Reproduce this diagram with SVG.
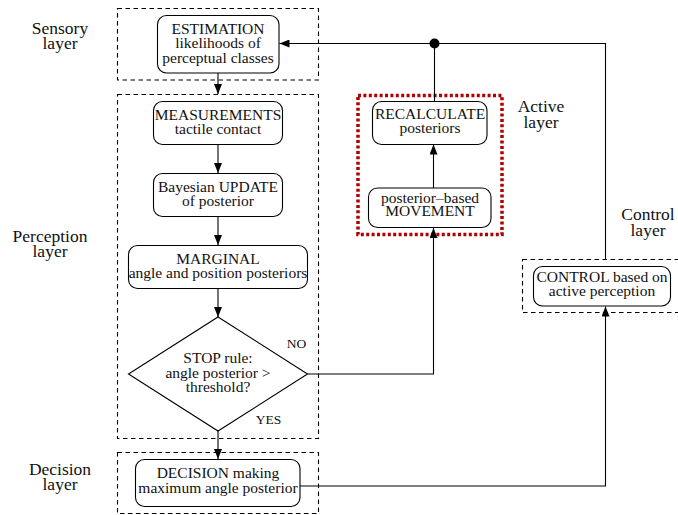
<svg xmlns="http://www.w3.org/2000/svg" width="678" height="515" viewBox="0 0 678 515" font-family="'Liberation Serif', 'Times New Roman', 'DejaVu Serif', serif">
<defs>
<marker id="ah" viewBox="0 0 10 8" refX="10" refY="4" markerWidth="10" markerHeight="8" markerUnits="userSpaceOnUse" orient="auto">
<path d="M0,0 L10,4 L0,8 Z" fill="#000"/>
</marker>
</defs>
<style>
text{font-family:'Liberation Serif','Times New Roman','DejaVu Serif',serif;fill:#111;text-anchor:middle}
.n{font-size:15.5px}
.l{font-size:17.5px}
.s{font-size:13.5px}
.box{fill:#fff;stroke:#000;stroke-width:1.1}
.dash{fill:none;stroke:#000;stroke-width:1.1;stroke-dasharray:4.5,3.5}
.red{fill:none;stroke:#b00000;stroke-width:3.5;stroke-dasharray:3,2.4}
.c{fill:none;stroke:#000;stroke-width:1.1}
</style>
<rect width="678" height="515" fill="#fff"/>
<g id="layers">
<rect class="dash" x="117.5" y="8.5" width="201" height="71.5"/>
<rect class="dash" x="117.5" y="94.5" width="201" height="344"/>
<rect class="dash" x="117.5" y="452.5" width="201" height="61"/>
<rect class="dash" x="522.5" y="259.5" width="160" height="53"/>
<rect class="red" x="358" y="95.5" width="144" height="139"/>
<text class="l" x="60" y="33.5">Sensory</text>
<text class="l" x="60" y="49">layer</text>
<text class="l" x="50" y="241.5">Perception</text>
<text class="l" x="50" y="257">layer</text>
<text class="l" x="60" y="474.5">Decision</text>
<text class="l" x="60" y="490">layer</text>
<text class="l" x="541" y="112">Active</text>
<text class="l" x="541" y="127.5">layer</text>
<text class="l" x="648" y="220">Control</text>
<text class="l" x="648" y="235.5">layer</text>
</g>
<g id="connectors">
<line class="c" x1="218" y1="73" x2="218" y2="94" marker-end="url(#ah)"/>
<line class="c" x1="218" y1="144.5" x2="218" y2="173" marker-end="url(#ah)"/>
<line class="c" x1="218" y1="217" x2="218" y2="245" marker-end="url(#ah)"/>
<line class="c" x1="218" y1="288.5" x2="218" y2="317" marker-end="url(#ah)"/>
<line class="c" x1="218" y1="431" x2="218" y2="459" marker-end="url(#ah)"/>
<polyline class="c" points="307.5,374 433.5,374 433.5,228" marker-end="url(#ah)"/>
<line class="c" x1="433.5" y1="188" x2="433.5" y2="144.5" marker-end="url(#ah)"/>
<line class="c" x1="434.5" y1="101" x2="434.5" y2="44"/>
<polyline class="c" points="605.5,259.5 605.5,43.5 279.5,43.5" marker-end="url(#ah)"/>
<circle cx="434.5" cy="43.5" r="5" fill="#000"/>
<polyline class="c" points="300,486 605.5,486 605.5,306.5" marker-end="url(#ah)"/>
<text class="s" x="296.5" y="347.5">NO</text>
<text class="s" x="268.5" y="423.5">YES</text>
</g>
<g id="estimation">
<rect class="box" x="157.5" y="15.5" width="121.5" height="57.5" rx="9"/>
<text class="n" x="218" y="33.5">ESTIMATION</text>
<text class="n" x="218" y="48">likelihoods of</text>
<text class="n" x="218" y="62.5">perceptual classes</text>
</g>
<g id="measurements">
<rect class="box" x="153.5" y="101.5" width="129" height="43" rx="9"/>
<text class="n" x="218" y="119.5">MEASUREMENTS</text>
<text class="n" x="218" y="133.5">tactile contact</text>
</g>
<g id="update">
<rect class="box" x="153.5" y="173.5" width="129" height="43" rx="9"/>
<text class="n" x="218" y="191.5">Bayesian UPDATE</text>
<text class="n" x="218" y="205.5">of posterior</text>
</g>
<g id="marginal">
<rect class="box" x="128.5" y="245.5" width="179" height="43" rx="9"/>
<text class="n" x="218" y="263.5">MARGINAL</text>
<text class="n" x="218" y="277.5">angle and position posteriors</text>
</g>
<g id="stop">
<polygon class="box" points="218,317 307.5,374 218,431 128.5,374"/>
<text class="n" x="218" y="363">STOP rule:</text>
<text class="n" x="218" y="377.5">angle posterior &gt;</text>
<text class="n" x="218" y="392">threshold?</text>
</g>
<g id="decision">
<rect class="box" x="135.5" y="459.5" width="164.5" height="47" rx="9"/>
<text class="n" x="218" y="477.5">DECISION making</text>
<text class="n" x="218" y="492.5">maximum angle posterior</text>
</g>
<g id="recalculate">
<rect class="box" x="372.5" y="101.5" width="114.5" height="43" rx="9"/>
<text class="n" x="430" y="119">RECALCULATE</text>
<text class="n" x="430" y="133">posteriors</text>
</g>
<g id="movement">
<rect class="box" x="368.5" y="188" width="122.5" height="39.5" rx="9"/>
<text class="n" x="430" y="202.5">posterior–based</text>
<text class="n" x="430" y="215.5">MOVEMENT</text>
</g>
<g id="control">
<rect class="box" x="533.5" y="266.5" width="137" height="39.5" rx="9"/>
<text class="n" x="602" y="281.5">CONTROL based on</text>
<text class="n" x="602" y="295.5">active perception</text>
</g>
</svg>
